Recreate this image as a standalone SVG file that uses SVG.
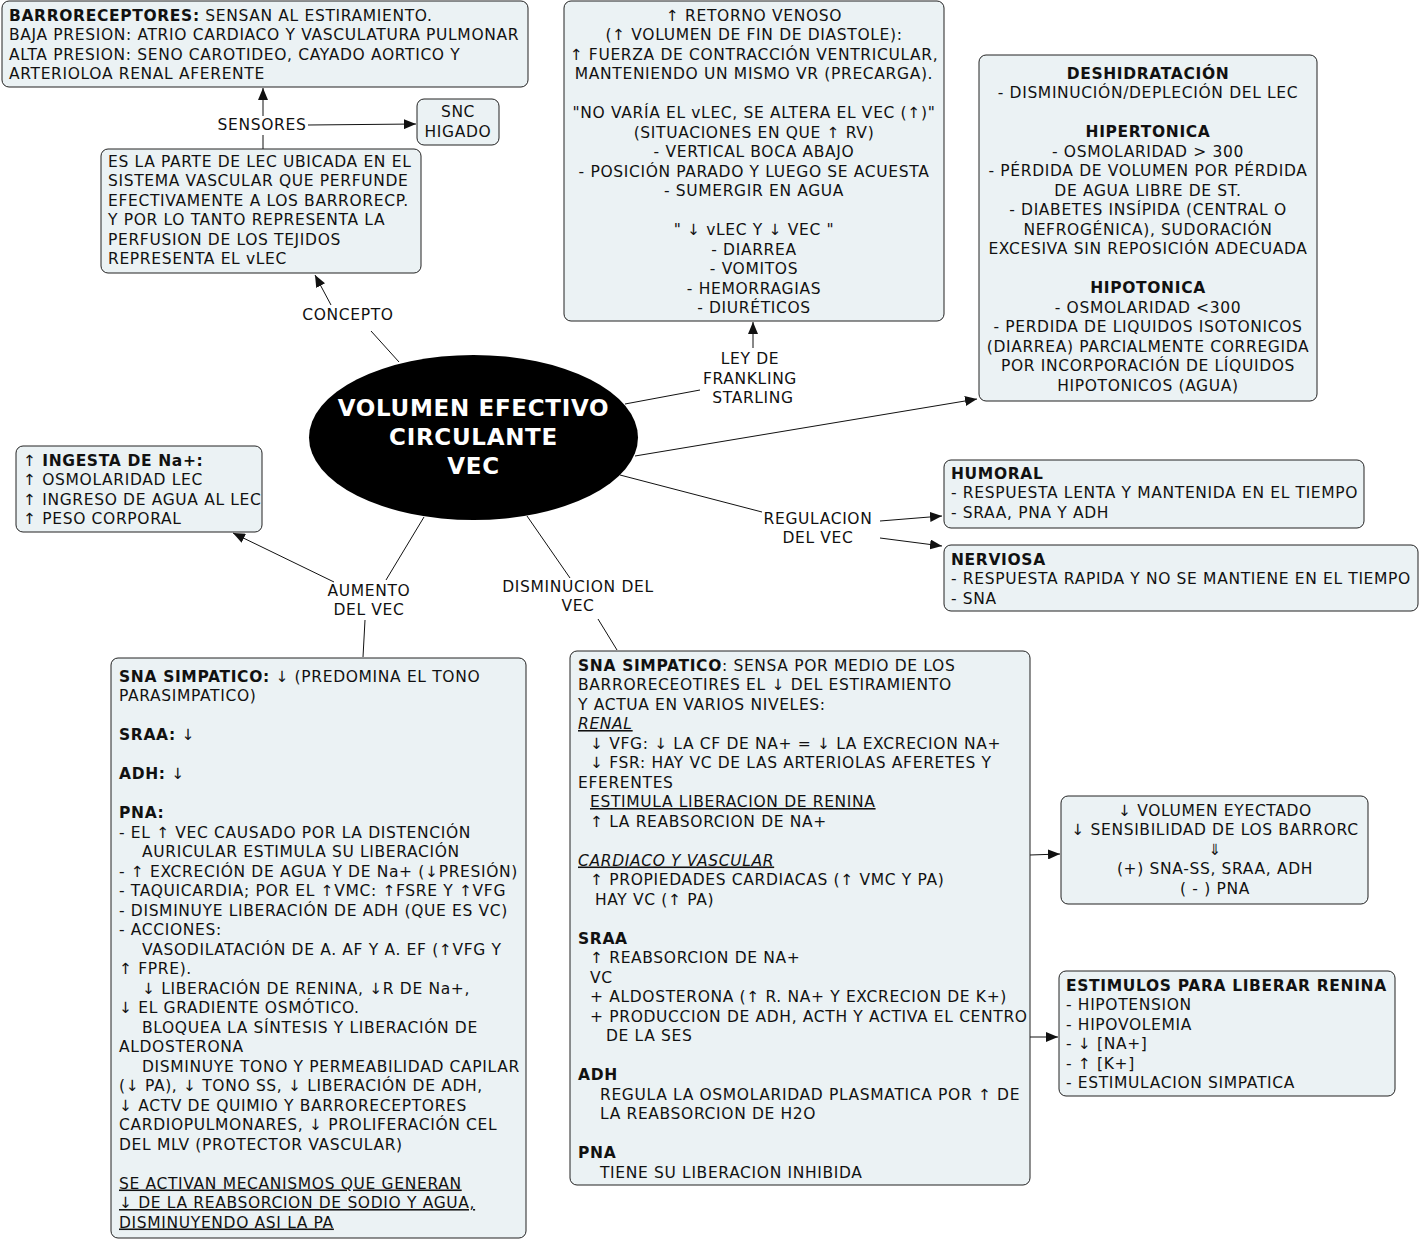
<svg xmlns="http://www.w3.org/2000/svg" width="1421" height="1240" viewBox="0 0 1421 1240">
<style>
.n{fill:#ebf2f4;stroke:#222;stroke-width:1}
.t{font-family:"DejaVu Sans",Verdana,sans-serif;font-size:15.5px;letter-spacing:0.65px;fill:#111}
.c{text-anchor:middle}
.b{font-weight:bold}
.u{text-decoration:underline}
.i{font-style:italic}
.l{font-family:"DejaVu Sans",Verdana,sans-serif;font-size:15.5px;letter-spacing:0.65px;fill:#111;text-anchor:middle}
.e{stroke:#111;stroke-width:1;fill:none}
.a{marker-end:url(#arr)}
.h{font-family:"DejaVu Sans",Verdana,sans-serif;font-size:23px;letter-spacing:0.7px;font-weight:bold;fill:#fff;text-anchor:middle}
</style>
<defs>
<marker id="arr" markerUnits="userSpaceOnUse" markerWidth="12" markerHeight="10" refX="12" refY="5" orient="auto">
<path d="M0,0 L12,5 L0,10 z" fill="#111"/>
</marker>
</defs>
<rect width="1421" height="1240" fill="#fff"/>

<g id="connectors">
<path class="e a" d="M263,149 L263,135 M263,116 L263,88"/>
<path class="e a" d="M308,125 L416,124"/>
<path class="e" d="M399,362 L371,331"/>
<path class="e a" d="M331,305 L315,275"/>
<path class="e" d="M625,404 L700,390"/>
<path class="e a" d="M753,348 L753,322"/>
<path class="e a" d="M635,456 L977,399"/>
<path class="e" d="M424,517 L386,580"/>
<path class="e a" d="M334,582 L233,533"/>
<path class="e" d="M365,620 L363,657"/>
<path class="e" d="M527,516 L570,578"/>
<path class="e" d="M598,619 L617,650"/>
<path class="e" d="M620,475 L762,512"/>
<path class="e a" d="M880,521 L942,516"/>
<path class="e a" d="M880,538 L942,546"/>
<path class="e a" d="M1030,855 L1060,854"/>
<path class="e a" d="M1030,1037 L1058,1037"/>
<text class="l" x="262" y="130">SENSORES</text>
<text class="l" x="348" y="320">CONCEPTO</text>
<text class="l" x="750" y="364">LEY DE<tspan x="750" y="383.5">FRANKLING</tspan><tspan x="753" y="403">STARLING</tspan></text>
<text class="l" x="369" y="595.5">AUMENTO<tspan x="369" y="615">DEL VEC</tspan></text>
<text class="l" x="578" y="591.5">DISMINUCION DEL<tspan x="578" y="611">VEC</tspan></text>
<text class="l" x="818" y="523.5">REGULACION<tspan x="818" y="543">DEL VEC</tspan></text>
</g>

<g id="vec">
<ellipse cx="473.5" cy="437.5" rx="164.5" ry="82.5" fill="#000"/>
<text class="h" x="473.5" y="416">VOLUMEN EFECTIVO<tspan x="473.5" y="445">CIRCULANTE</tspan><tspan x="473.5" y="474">VEC</tspan></text>
</g>

<g id="barroreceptores">
<rect class="n" x="2" y="1" width="526" height="86" rx="7"/>
<text class="t" x="9" y="20.5"><tspan class="b">BARRORECEPTORES:</tspan> SENSAN AL ESTIRAMIENTO.<tspan x="9" dy="19.5">BAJA PRESION: ATRIO CARDIACO Y VASCULATURA PULMONAR</tspan><tspan x="9" dy="19.5">ALTA PRESION: SENO CAROTIDEO, CAYADO AORTICO Y</tspan><tspan x="9" dy="19.5">ARTERIOLOA RENAL AFERENTE</tspan></text>
</g>

<g id="snc">
<rect class="n" x="417" y="99" width="82" height="46" rx="7"/>
<text class="t c" x="458" y="117">SNC<tspan x="458" dy="19.5">HIGADO</tspan></text>
</g>

<g id="concepto">
<rect class="n" x="101" y="149" width="320" height="124" rx="7"/>
<text class="t" x="108" y="166.5">ES LA PARTE DE LEC UBICADA EN EL<tspan x="108" dy="19.5">SISTEMA VASCULAR QUE PERFUNDE</tspan><tspan x="108" dy="19.5">EFECTIVAMENTE A LOS BARRORECP.</tspan><tspan x="108" dy="19.5">Y POR LO TANTO REPRESENTA LA</tspan><tspan x="108" dy="19.5">PERFUSION DE LOS TEJIDOS</tspan><tspan x="108" dy="19.5">REPRESENTA EL vLEC</tspan></text>
</g>

<g id="frank">
<rect class="n" x="564" y="1" width="380" height="320" rx="7"/>
<text class="t c" x="754" y="20.5">↑ RETORNO VENOSO<tspan x="754" dy="19.5">(↑ VOLUMEN DE FIN DE DIASTOLE):</tspan><tspan x="754" dy="19.5">↑ FUERZA DE CONTRACCIÓN VENTRICULAR,</tspan><tspan x="754" dy="19.5">MANTENIENDO UN MISMO VR (PRECARGA).</tspan><tspan x="754" dy="39">"NO VARÍA EL vLEC, SE ALTERA EL VEC (↑)"</tspan><tspan x="754" dy="19.5">(SITUACIONES EN QUE ↑ RV)</tspan><tspan x="754" dy="19.5">- VERTICAL BOCA ABAJO</tspan><tspan x="754" dy="19.5">- POSICIÓN PARADO Y LUEGO SE ACUESTA</tspan><tspan x="754" dy="19.5">- SUMERGIR EN AGUA</tspan><tspan x="754" dy="39">" ↓ vLEC Y ↓ VEC "</tspan><tspan x="754" dy="19.5">- DIARREA</tspan><tspan x="754" dy="19.5">- VOMITOS</tspan><tspan x="754" dy="19.5">- HEMORRAGIAS</tspan><tspan x="754" dy="19.5">- DIURÉTICOS</tspan></text>
</g>

<g id="deshidratacion">
<rect class="n" x="979" y="55" width="338" height="346" rx="7"/>
<text class="t c" x="1148" y="78.5"><tspan class="b">DESHIDRATACIÓN</tspan><tspan x="1148" dy="19.5">- DISMINUCIÓN/DEPLECIÓN DEL LEC</tspan><tspan x="1148" dy="39" class="b">HIPERTONICA</tspan><tspan x="1148" dy="19.5">- OSMOLARIDAD &gt; 300</tspan><tspan x="1148" dy="19.5">- PÉRDIDA DE VOLUMEN POR PÉRDIDA</tspan><tspan x="1148" dy="19.5">DE AGUA LIBRE DE ST.</tspan><tspan x="1148" dy="19.5">- DIABETES INSÍPIDA (CENTRAL O</tspan><tspan x="1148" dy="19.5">NEFROGÉNICA), SUDORACIÓN</tspan><tspan x="1148" dy="19.5">EXCESIVA SIN REPOSICIÓN ADECUADA</tspan><tspan x="1148" dy="39" class="b">HIPOTONICA</tspan><tspan x="1148" dy="19.5">- OSMOLARIDAD &lt;300</tspan><tspan x="1148" dy="19.5">- PERDIDA DE LIQUIDOS ISOTONICOS</tspan><tspan x="1148" dy="19.5">(DIARREA) PARCIALMENTE CORREGIDA</tspan><tspan x="1148" dy="19.5">POR INCORPORACIÓN DE LÍQUIDOS</tspan><tspan x="1148" dy="19.5">HIPOTONICOS (AGUA)</tspan></text>
</g>

<g id="ingesta">
<rect class="n" x="16" y="446" width="246" height="86" rx="7"/>
<text class="t" x="23" y="465.5">↑ <tspan class="b">INGESTA DE Na+:</tspan><tspan x="23" dy="19.5">↑ OSMOLARIDAD LEC</tspan><tspan x="23" dy="19.5">↑ INGRESO DE AGUA AL LEC</tspan><tspan x="23" dy="19.5">↑ PESO CORPORAL</tspan></text>
</g>

<g id="humoral">
<rect class="n" x="944" y="460" width="420" height="68" rx="7"/>
<text class="t" x="951" y="478.5"><tspan class="b">HUMORAL</tspan><tspan x="951" dy="19.5">- RESPUESTA LENTA Y MANTENIDA EN EL TIEMPO</tspan><tspan x="951" dy="19.5">- SRAA, PNA Y ADH</tspan></text>
</g>

<g id="nerviosa">
<rect class="n" x="944" y="545" width="474" height="66" rx="7"/>
<text class="t" x="951" y="564.5"><tspan class="b">NERVIOSA</tspan><tspan x="951" dy="19.5">- RESPUESTA RAPIDA Y NO SE MANTIENE EN EL TIEMPO</tspan><tspan x="951" dy="19.5">- SNA</tspan></text>
</g>

<g id="aumento">
<rect class="n" x="111" y="658" width="415" height="580" rx="7"/>
<text class="t" x="119" y="681.5"><tspan class="b">SNA SIMPATICO:</tspan> ↓ (PREDOMINA EL TONO<tspan x="119" dy="19.5">PARASIMPATICO)</tspan><tspan x="119" dy="39" class="b">SRAA:</tspan> ↓<tspan x="119" dy="39" class="b">ADH:</tspan> ↓<tspan x="119" dy="39" class="b">PNA:</tspan><tspan x="119" dy="19.5">- EL ↑ VEC CAUSADO POR LA DISTENCIÓN</tspan><tspan x="142" dy="19.5">AURICULAR ESTIMULA SU LIBERACIÓN</tspan><tspan x="119" dy="19.5">- ↑ EXCRECIÓN DE AGUA Y DE Na+ (↓PRESIÓN)</tspan><tspan x="119" dy="19.5">- TAQUICARDIA; POR EL ↑VMC: ↑FSRE Y ↑VFG</tspan><tspan x="119" dy="19.5">- DISMINUYE LIBERACIÓN DE ADH (QUE ES VC)</tspan><tspan x="119" dy="19.5">- ACCIONES:</tspan><tspan x="142" dy="19.5">VASODILATACIÓN DE A. AF Y A. EF (↑VFG Y</tspan><tspan x="119" dy="19.5">↑ FPRE).</tspan><tspan x="142" dy="19.5">↓ LIBERACIÓN DE RENINA, ↓R DE Na+,</tspan><tspan x="119" dy="19.5">↓ EL GRADIENTE OSMÓTICO.</tspan><tspan x="142" dy="19.5">BLOQUEA LA SÍNTESIS Y LIBERACIÓN DE</tspan><tspan x="119" dy="19.5">ALDOSTERONA</tspan><tspan x="142" dy="19.5">DISMINUYE TONO Y PERMEABILIDAD CAPILAR</tspan><tspan x="119" dy="19.5">(↓ PA), ↓ TONO SS, ↓ LIBERACIÓN DE ADH,</tspan><tspan x="119" dy="19.5">↓ ACTV DE QUIMIO Y BARRORECEPTORES</tspan><tspan x="119" dy="19.5">CARDIOPULMONARES, ↓ PROLIFERACIÓN CEL</tspan><tspan x="119" dy="19.5">DEL MLV (PROTECTOR VASCULAR)</tspan><tspan x="119" dy="39" class="u">SE ACTIVAN MECANISMOS QUE GENERAN</tspan><tspan x="119" dy="19.5" class="u">↓ DE LA REABSORCION DE SODIO Y AGUA,</tspan><tspan x="119" dy="19.5" class="u">DISMINUYENDO ASI LA PA </tspan></text>
</g>

<g id="disminucion">
<rect class="n" x="570" y="651" width="460" height="534" rx="7"/>
<text class="t" x="578" y="670.5"><tspan class="b">SNA SIMPATICO</tspan>: SENSA POR MEDIO DE LOS<tspan x="578" dy="19.5">BARRORECEOTIRES EL ↓ DEL ESTIRAMIENTO</tspan><tspan x="578" dy="19.5">Y ACTUA EN VARIOS NIVELES:</tspan><tspan x="578" dy="19.5" class="i u">RENAL</tspan><tspan x="590" dy="19.5">↓ VFG: ↓ LA CF DE NA+ = ↓ LA EXCRECION NA+</tspan><tspan x="590" dy="19.5">↓ FSR: HAY VC DE LAS ARTERIOLAS AFERETES Y</tspan><tspan x="578" dy="19.5">EFERENTES</tspan><tspan x="590" dy="19.5" class="u">ESTIMULA LIBERACION DE RENINA</tspan><tspan x="590" dy="19.5">↑ LA REABSORCION DE NA+</tspan><tspan x="578" dy="39" class="i u">CARDIACO Y VASCULAR</tspan><tspan x="590" dy="19.5">↑ PROPIEDADES CARDIACAS (↑ VMC Y PA)</tspan><tspan x="595" dy="19.5">HAY VC (↑ PA)</tspan><tspan x="578" dy="39" class="b">SRAA</tspan><tspan x="590" dy="19.5">↑ REABSORCION DE NA+</tspan><tspan x="590" dy="19.5">VC</tspan><tspan x="590" dy="19.5">+ ALDOSTERONA (↑ R. NA+ Y EXCRECION DE K+)</tspan><tspan x="590" dy="19.5">+ PRODUCCION DE ADH, ACTH Y ACTIVA EL CENTRO</tspan><tspan x="606" dy="19.5">DE LA SES</tspan><tspan x="578" dy="39" class="b">ADH</tspan><tspan x="600" dy="19.5">REGULA LA OSMOLARIDAD PLASMATICA POR ↑ DE</tspan><tspan x="600" dy="19.5">LA REABSORCION DE H2O</tspan><tspan x="578" dy="39" class="b">PNA</tspan><tspan x="600" dy="19.5">TIENE SU LIBERACION INHIBIDA</tspan></text>
</g>

<g id="eyectado">
<rect class="n" x="1061" y="796" width="307" height="108" rx="7"/>
<text class="t c" x="1215" y="815.5">↓ VOLUMEN EYECTADO<tspan x="1215" dy="19.5">↓ SENSIBILIDAD DE LOS BARRORC</tspan><tspan x="1215" dy="19.5">⇓</tspan><tspan x="1215" dy="19.5">(+) SNA-SS, SRAA, ADH</tspan><tspan x="1215" dy="19.5">( - ) PNA</tspan></text>
</g>

<g id="estimulos">
<rect class="n" x="1059" y="971" width="336" height="125" rx="7"/>
<text class="t" x="1066" y="990.5"><tspan class="b">ESTIMULOS PARA LIBERAR RENINA</tspan><tspan x="1066" dy="19.5">- HIPOTENSION</tspan><tspan x="1066" dy="19.5">- HIPOVOLEMIA</tspan><tspan x="1066" dy="19.5">- ↓ [NA+]</tspan><tspan x="1066" dy="19.5">- ↑ [K+]</tspan><tspan x="1066" dy="19.5">- ESTIMULACION SIMPATICA</tspan></text>
</g>
</svg>
